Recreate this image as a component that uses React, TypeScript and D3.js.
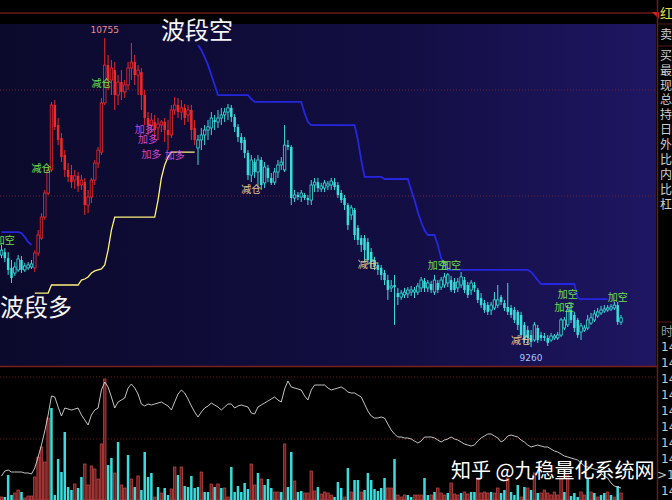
import React from 'react';
import * as d3 from 'd3';

const W = 672;
const H = 500;

// [open, high, low, close]
const ohlc: [number, number, number, number][] = [
  [9705,9754,9690,9729],[9719,9739,9671,9690],[9690,9719,9609,9633],[9643,9681,9570,9594],[9618,9671,9604,9647],
  [9633,9705,9623,9686],[9681,9700,9618,9633],[9633,9667,9623,9652],[9643,9671,9633,9657],[9647,9681,9638,9662],
  [9643,9729,9623,9715],[9715,9826,9700,9802],[9787,9908,9778,9889],[9889,10020,9875,10005],[10005,10141,9996,10117],
  [10117,10446,10107,10431],[10431,10455,10310,10325],[10334,10368,10237,10262],[10271,10295,10155,10179],[10189,10213,10083,10117],
  [10117,10150,10058,10083],[10092,10141,10029,10058],[10068,10117,10025,10088],[10088,10107,10010,10039],[10044,10092,10020,10068],
  [10058,10078,9899,9947],[9947,10020,9908,9986],[9986,10078,9957,10068],[10068,10165,10044,10150],[10150,10228,10126,10213],
  [10203,10465,10189,10441],[10441,10755,10431,10624],[10624,10673,10504,10552],[10552,10649,10479,10610],[10600,10639,10407,10479],
  [10479,10576,10431,10542],[10542,10600,10455,10494],[10494,10552,10465,10528],[10528,10639,10504,10610],[10610,10731,10552,10639],
  [10639,10673,10528,10576],[10576,10624,10479,10600],[10590,10610,10407,10479],[10479,10504,10334,10368],[10368,10397,10286,10334],
  [10334,10392,10300,10358],[10349,10383,10262,10310],[10320,10368,10262,10339],[10334,10358,10300,10349],[10349,10368,10252,10310],
  [10310,10358,10213,10286],[10286,10431,10271,10407],[10407,10470,10383,10431],[10431,10465,10368,10397],[10397,10455,10358,10417],
  [10417,10436,10334,10368],[10383,10431,10349,10407],[10407,10431,10262,10310],[10320,10358,10237,10262],[10223,10286,10141,10262],
  [10262,10320,10213,10286],[10286,10334,10237,10310],[10310,10358,10262,10325],[10320,10397,10286,10368],[10358,10383,10310,10349],
  [10349,10407,10320,10368],[10368,10417,10334,10383],[10383,10417,10349,10397],[10397,10436,10358,10417],[10417,10431,10349,10373],
  [10373,10387,10300,10325],[10325,10339,10252,10276],[10276,10295,10213,10247],[10262,10276,10174,10199],[10199,10213,10068,10092],
  [10092,10189,10058,10165],[10155,10174,10078,10107],[10107,10189,10029,10165],[10165,10179,10020,10044],[10054,10155,10029,10131],
  [10126,10141,10058,10078],[10078,10102,10044,10054],[10058,10126,10044,10107],[10107,10165,10078,10141],[10141,10179,10117,10155],
  [10117,10334,10107,10237],[10237,10262,10213,10228],[10228,10237,9947,9981],[9981,10020,9962,9996],[9996,10010,9971,9986],
  [9986,10020,9962,10005],[9996,10005,9971,9981],[9981,9996,9947,9971],[9971,10068,9947,10044],[10044,10078,10010,10058],
  [10058,10078,10010,10029],[10025,10054,10010,10039],[10029,10068,10010,10054],[10039,10063,10020,10049],[10044,10078,10020,10063],
  [10058,10078,10020,10034],[10044,10058,9981,9996],[10005,10020,9957,9971],[9981,9996,9923,9947],[9947,9957,9826,9850],
  [9899,9947,9875,9933],[9923,9933,9778,9802],[9836,9850,9754,9778],[9787,9802,9720,9754],[9787,9802,9671,9729],
  [9768,9787,9657,9681],[9720,9739,9643,9671],[9681,9696,9633,9652],[9657,9671,9609,9633],[9643,9657,9584,9609],
  [9618,9633,9560,9584],[9584,9609,9488,9536],[9546,9584,9526,9555],[9560,9609,9367,9550],[9521,9546,9463,9502],
  [9502,9536,9488,9521],[9512,9546,9497,9526],[9517,9550,9497,9536],[9526,9555,9507,9536],[9526,9550,9497,9536],
  [9526,9570,9512,9555],[9546,9599,9526,9584],[9580,9594,9526,9546],[9546,9584,9526,9570],[9565,9580,9521,9536],
  [9526,9609,9512,9584],[9570,9584,9521,9536],[9550,9599,9536,9584],[9560,9618,9546,9599],[9570,9618,9550,9609],
  [9584,9604,9526,9536],[9575,9594,9521,9536],[9546,9594,9526,9575],[9560,9623,9546,9599],[9584,9599,9521,9536],
  [9560,9575,9497,9512],[9536,9584,9512,9570],[9560,9575,9526,9546],[9536,9546,9473,9488],[9497,9521,9449,9463],
  [9473,9488,9425,9439],[9463,9478,9415,9430],[9439,9478,9415,9463],[9449,9526,9439,9488],[9463,9560,9449,9488],
  [9502,9512,9463,9478],[9473,9488,9434,9449],[9454,9570,9415,9430],[9449,9463,9401,9415],[9439,9454,9376,9391],
  [9430,9439,9342,9367],[9415,9430,9304,9318],[9367,9381,9280,9294],[9342,9362,9270,9304],[9318,9342,9260,9285],
  [9294,9381,9285,9367],[9352,9367,9280,9294],[9318,9333,9289,9304],[9313,9328,9289,9304],[9304,9318,9265,9280],
  [9294,9328,9285,9313],[9304,9323,9294,9313],[9304,9333,9294,9318],[9318,9401,9309,9391],[9352,9405,9342,9391],
  [9367,9463,9357,9439],[9439,9478,9376,9391],[9415,9430,9333,9352],[9391,9401,9304,9318],[9333,9376,9294,9362],
  [9342,9367,9333,9352],[9352,9415,9342,9391],[9376,9425,9367,9401],[9391,9439,9381,9420],[9410,9449,9401,9430],
  [9425,9459,9415,9439],[9434,9463,9425,9444],[9439,9463,9430,9449],[9444,9468,9434,9454],[9449,9478,9439,9463],
  [9463,9478,9367,9381],[9381,9415,9367,9401],
];

// yellow 波段多 stop line
const longStop: (number | null)[] = [
  null,null,null,null,null,null,null,null,null,null,
  9521,9521,9521,9521,9521,9560,9560,9560,9560,9560,
  9560,9560,9560,9560,9584,9589,9599,9618,9628,9633,
  9638,9657,9729,9826,9889,9889,9889,9889,9889,9889,
  9889,9889,9889,9889,9889,9889,9889,9971,10078,10141,
  10179,10203,10203,10203,10203,10203,10203,10203,10203,null,
  null,null,null,null,null,null,null,null,null,null,
  null,null,null,null,null,null,null,null,null,null,
  null,null,null,null,null,null,null,null,null,null,
  null,null,null,null,null,null,null,null,null,null,
  null,null,null,null,null,null,null,null,null,null,
  null,null,null,null,null,null,null,null,null,null,
  null,null,null,null,null,null,null,null,null,null,
  null,null,null,null,null,null,null,null,null,null,
  null,null,null,null,null,null,null,null,null,null,
  null,null,null,null,null,null,null,null,null,null,
  null,null,null,null,null,null,null,null,null,null,
  null,null,null,null,null,null,null,null,null,null,
  null,null,null,null,null,null,null,
];

// blue 波段空 stop line
const shortStop: (number | null)[] = [
  9816,9816,9816,9816,9816,9816,9811,9792,9768,9754,
  null,null,null,null,null,null,null,null,null,null,
  null,null,null,null,null,null,null,null,null,null,
  null,null,null,null,null,null,null,null,null,null,
  null,null,null,null,null,null,null,null,null,null,
  null,null,null,null,null,null,null,null,null,10721,
  10697,10663,10624,10576,10528,10479,10479,10479,10479,10479,
  10479,10479,10479,10479,10479,10460,10446,10446,10446,10446,
  10446,10446,10446,10446,10446,10446,10446,10446,10446,10446,
  10446,10392,10349,10334,10334,10334,10334,10334,10334,10334,
  10334,10334,10334,10334,10334,10334,10334,10262,10165,10083,
  10083,10083,10083,10083,10083,10073,10073,10073,10073,10073,
  10073,10073,10073,10020,9971,9913,9865,9826,9802,9802,
  9802,9754,9690,9652,9633,9633,9633,9633,9633,9633,
  9633,9633,9633,9633,9633,9633,9633,9633,9633,9633,
  9633,9633,9633,9633,9633,9633,9633,9633,9633,9623,
  9604,9584,9565,9565,9565,9565,9565,9565,9565,9565,
  9565,9565,9565,9497,9492,9492,9492,9492,9492,9492,
  9492,9492,9492,null,null,null,null,
];

const volume: number[] = [
  3,3,25,5,7,10,8,2,4,4,
  23,43,53,38,82,92,5,41,28,68,
  13,10,16,12,23,36,15,34,31,21,
  56,121,35,42,27,58,15,12,45,21,
  13,24,10,48,23,27,3,13,7,12,
  5,11,33,25,33,14,13,24,12,13,
  28,8,8,16,13,16,12,12,3,33,
  8,14,8,17,11,36,15,27,21,15,
  21,12,8,8,8,56,13,48,19,8,
  9,7,7,29,9,13,6,8,7,5,
  3,18,12,3,32,8,20,20,8,10,
  27,20,11,9,12,22,12,12,41,5,
  3,5,5,3,5,5,5,22,5,5,
  8,12,7,5,7,17,6,5,7,8,
  6,8,8,22,7,8,7,8,7,12,
  7,10,22,8,5,15,3,13,12,10,
  27,7,7,10,7,5,8,5,22,8,
  25,4,7,3,8,5,22,8,7,3,
  5,7,8,5,3,14,7,
];

const volumeSide: string[] = (
  'rcccrrcrrr' + 'rrrrrccccc' + 'ccrccrrrrr' + 'rrccrcrrcr' + 'crccccrcrc' +
  'crrcrcccc' + 'c' + 'rccrcrcrrc' + 'cccccrrcrc' + 'ccrrcrccrc' + 'crrrrcrrrr' +
  'cccrcrccrc' + 'ccccccrrcr' + 'rrccrrrccr' + 'crrrcrrrcr' + 'rccrrrrcrr' +
  'ccrcccrcrc' + 'rcrrrrrrrc' + 'rcccrrcrcr' + 'ccrcrcr'
).split('');

const openInterest: number[] = [
  24,29,30,28,28,28,28,27,27,26,
  32,43,55,69,85,104,103,93,84,92,
  91,90,91,92,85,80,75,85,90,92,
  110,118,113,103,92,98,100,102,112,116,
  112,106,96,94,96,95,96,97,98,96,
  94,90,98,106,110,107,101,94,88,83,
  88,92,94,97,95,93,90,93,96,96,
  92,94,95,94,93,87,86,93,95,97,
  99,101,103,100,98,111,119,113,112,111,
  110,104,100,110,115,115,115,115,112,110,
  111,112,113,111,108,107,107,105,103,96,
  89,84,82,82,83,82,76,70,66,63,
  63,62,62,61,59,57,59,63,63,63,
  62,60,58,60,61,63,61,60,58,56,
  55,54,55,59,62,64,66,66,64,62,
  58,60,64,65,64,63,60,58,55,53,
  54,55,54,53,53,51,49,48,46,44,
  43,42,41,40,37,34,33,32,31,30,
  27,24,22,17,14,13,12,
];

const signalIndex = [1, 12, 30, 43, 44, 45, 52, 75, 110, 131, 135, 170, 169, 185, 156];
const signalPrice = [9773, 10122, 10533, 10310, 10262, 10189, 10184, 10020, 9657, 9652, 9652, 9512, 9449, 9497, 9289];
const signalText = ['加空', '减仓', '减仓', '加多', '加多', '加多', '加多', '减仓', '减仓', '加空', '加空', '加空', '加空', '加空', '减仓'];
const signalKind = ['g', 'g', 'g', 'p', 'p', 'p', 'p', 't', 't', 'g', 'g', 'g', 'g', 'g', 't'];

const sideLabels = ['卖', '买', '最', '现', '总', '持', '日', '外', '比', '内', '比', '杠'];
const timeRows = ['14', '14', '14', '14', '14', '14', '14', '14', '>14', '14'];

const RED = '#f02828';
const CYAN = '#3cdcdc';
const KIND_COLOR: Record<string, string> = { g: '#6fe04a', p: '#d048d0', t: '#e6c88e' };
const CJK = '"Noto Sans CJK SC", "Noto Sans", sans-serif';

export default function App() {
  const N = ohlc.length;
  const x = d3.scaleLinear().domain([0, N - 1]).range([1.5, 621]);
  const y = d3.scaleLinear().domain([9173, 10823]).range([365, 24]);
  const yv = d3.scaleLinear().domain([0, 130]).range([500, 370]);
  const bw = 2.5;

  const stopLine = d3
    .line<number | null>()
    .defined((d) => d != null)
    .x((_, i) => x(i))
    .y((d) => y(d as number));

  const oiLine = d3
    .line<number>()
    .x((_, i) => x(i))
    .y((d) => yv(d));

  const highs = ohlc.map((d) => d[1]);
  const lows = ohlc.map((d) => d[2]);
  const maxI = d3.maxIndex(highs);
  const minI = d3.minIndex(lows);

  return (
    <svg
      width={W}
      height={H}
      style={{ position: 'fixed', left: 0, top: 0, background: '#000', display: 'block' }}
    >
      <defs>
        <linearGradient id="panelBg" x1="0" x2="1" y1="0" y2="0">
          <stop offset="0" stopColor="#0b0a2c" />
          <stop offset="0.6" stopColor="#120e42" />
          <stop offset="1" stopColor="#1e1662" />
        </linearGradient>
      </defs>
      <rect x={0} y={0} width={W} height={H} fill="#000" />

      {/* top border */}
      <line x1={0} x2={657} y1={13} y2={13} stroke="#6a1a1a" strokeWidth={1.5} />
      <path d="M652,12 L659,12 L659,19 Z" fill="#e02020" />

      {/* main panel */}
      <rect x={0} y={24} width={656} height={342} fill="url(#panelBg)" />
      {[90, 196].map((gy) => (
        <line key={gy} x1={0} x2={656} y1={gy} y2={gy} stroke="#6a2236" strokeWidth={1} strokeDasharray="1,2" />
      ))}
      <line x1={0} x2={657} y1={366.5} y2={366.5} stroke="#7a1e1e" strokeWidth={1.5} />

      {/* volume panel grid */}
      {[377, 439].map((gy) => (
        <line key={gy} x1={0} x2={656} y1={gy} y2={gy} stroke="#6a1c1c" strokeWidth={1} strokeDasharray="1,2" />
      ))}

      {/* right column */}
      <line x1={657.5} x2={657.5} y1={0} y2={H} stroke="#6a1c1c" strokeWidth={1.5} />
      <line x1={657} x2={W} y1={24} y2={24} stroke="#5a1818" />
      <line x1={657} x2={W} y1={46} y2={46} stroke="#5a1818" />
      <text x={660} y={18} fill="#e8e040" fontSize={13} fontFamily={CJK}>红</text>
      {sideLabels.map((t, i) => (
        <text key={i} x={660} y={[39, 60, 75, 90, 104, 119, 134, 149, 164, 179, 194, 209][i]} fill="#cfcfcf" fontSize={12} fontFamily={CJK}>
          {t}
        </text>
      ))}
      <line x1={657} x2={W} y1={322} y2={322} stroke="#5a1818" />
      <text x={661} y={336} fill="#9a9a9a" fontSize={12} fontFamily={CJK}>时</text>
      {timeRows.map((t, i) => (
        <text
          key={i}
          x={t.startsWith('>') ? 657 : 661}
          y={351 + i * 16}
          fill="#c8c8c8"
          fontSize={12}
          fontFamily='"DejaVu Sans", sans-serif'
        >
          {t}
        </text>
      ))}

      {/* volume bars */}
      {volume.map((v, i) => {
        const up = volumeSide[i] === 'r';
        const top = yv(v);
        return (
          <rect
            key={'v' + i}
            x={x(i) - bw / 2}
            y={top}
            width={bw}
            height={Math.max(0.5, 500 - top)}
            fill={up ? '#6e1c1c' : '#3cdcdc'}
            stroke={up ? '#c84a4a' : 'none'}
            strokeWidth={0.7}
          />
        );
      })}

      {/* open interest line */}
      <path d={oiLine(openInterest) || ''} fill="none" stroke="#d8d8d8" strokeWidth={0.9} />

      {/* stop lines */}
      <path d={stopLine(longStop) || ''} fill="none" stroke="#fff27a" strokeWidth={1.3} />
      <path d={stopLine(shortStop) || ''} fill="none" stroke="#2626e0" strokeWidth={1.8} />

      {/* candles */}
      {ohlc.map(([o, h, l, c], i) => {
        const col = longStop[i] != null ? RED : CYAN;
        const up = c >= o;
        const yTop = y(Math.max(o, c));
        const yBot = y(Math.min(o, c));
        const cx = x(i);
        return (
          <g key={'c' + i}>
            <line x1={cx} x2={cx} y1={y(h)} y2={y(l)} stroke={col} strokeWidth={1} />
            <rect
              x={cx - bw / 2}
              y={yTop}
              width={bw}
              height={Math.max(1, yBot - yTop)}
              fill={up ? '#120e3c' : col}
              stroke={col}
              strokeWidth={up ? 0.8 : 0}
            />
          </g>
        );
      })}

      {/* signal labels */}
      {signalIndex.map((si, k) => (
        <text
          key={'s' + k}
          x={x(si)}
          y={y(signalPrice[k])}
          fill={KIND_COLOR[signalKind[k]]}
          fontSize={10}
          fontFamily={CJK}
          textAnchor="middle"
          dominantBaseline="middle"
        >
          {signalText[k]}
        </text>
      ))}

      {/* extremes */}
      <text x={x(maxI)} y={y(highs[maxI]) - 5} fill="#f08a8a" fontSize={9} fontFamily='"DejaVu Sans", sans-serif' textAnchor="middle">
        {highs[maxI]}
      </text>
      <text x={x(minI)} y={y(lows[minI]) + 14} fill="#a8c4ff" fontSize={9} fontFamily='"DejaVu Sans", sans-serif' textAnchor="middle">
        {lows[minI]}
      </text>

      {/* big titles */}
      <text x={161} y={39} fill="#f4f4f4" fontSize={24} fontFamily={CJK}>波段空</text>
      <text x={0} y={316} fill="#f4f4f4" fontSize={24} fontFamily={CJK}>波段多</text>

      {/* watermark */}
      <text x={451} y={478} fill="#ffffff" fontSize={20} fontFamily={CJK}>知乎 @九稳量化系统网</text>
    </svg>
  );
}
